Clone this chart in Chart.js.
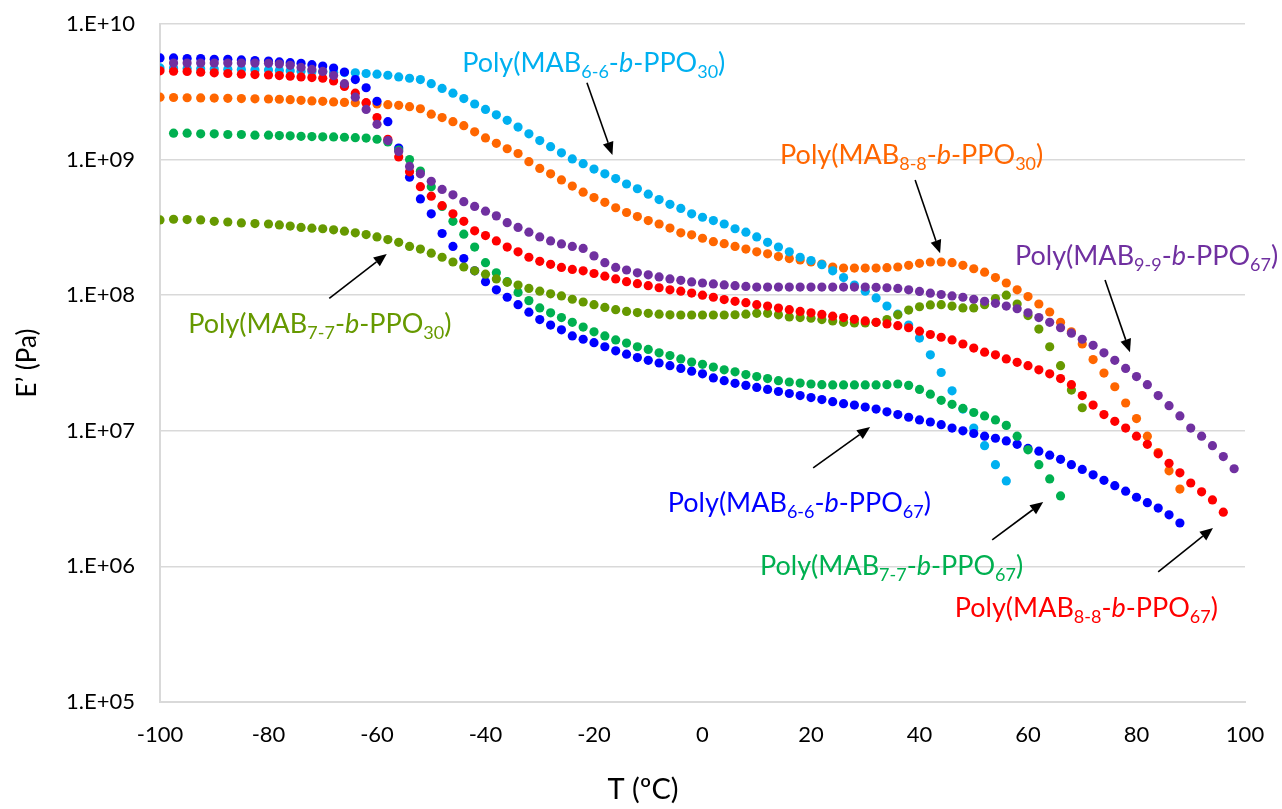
<!DOCTYPE html>
<html>
<head>
<meta charset="utf-8">
<script src="https://cdn.jsdelivr.net/npm/chart.js@4.4.0/dist/chart.umd.min.js"></script>
<style>
    body { margin: 0; background: #fff; }
    #wrap { width: 1282px; height: 809px; position: relative; }
</style>
</head>
<body>
<div id="wrap"><canvas id="myChart"></canvas></div>
<script>
// temperatures (ºC) shared by every run
const temps = [-100, -97.5, -95, -92.5, -90, -87.5, -85, -82.5,
    -80, -78, -76, -74, -72, -70, -68, -66, -64, -62,
    -60, -58, -56, -54, -52, -50, -48, -46, -44, -42,
    -40, -38, -36, -34, -32, -30, -28, -26, -24, -22,
    -20, -18, -16, -14, -12, -10, -8, -6, -4, -2,
    0, 2, 4, 6, 8, 10, 12, 14, 16, 18,
    20, 22, 24, 26, 28, 30, 32, 34, 36, 38,
    40, 42, 44, 46, 48, 50, 52, 54, 56, 58,
    60, 62, 64, 66, 68, 70, 72, 74, 76, 78,
    80, 82, 84, 86, 88, 90, 92, 94, 96, 98, 100];

// log10(E' / Pa), one value per temperature
const logMab66Ppo30 = [9.676, 9.675, 9.672, 9.67, 9.668, 9.666, 9.664, 9.662,
    9.66, 9.657, 9.655, 9.652, 9.65, 9.648, 9.645, 9.642, 9.64, 9.635,
    9.63, 9.622, 9.61, 9.60, 9.59, 9.56, 9.525, 9.49, 9.45, 9.41,
    9.37, 9.33, 9.29, 9.24, 9.19, 9.14, 9.095, 9.05, 9.005, 8.97,
    8.93, 8.895, 8.86, 8.82, 8.785, 8.745, 8.705, 8.67, 8.64, 8.60,
    8.575, 8.55, 8.525, 8.49, 8.465, 8.43, 8.39, 8.355, 8.32, 8.28,
    8.255, 8.225, 8.18, 8.13, 8.075, 8.03, 7.98, 7.92, 7.86, 7.78,
    7.684, 7.56, 7.43, 7.295, 7.16, 7.02, 6.89, 6.75, 6.63];

const logMab88Ppo30 = [9.46, 9.458, 9.456, 9.455, 9.454, 9.452, 9.45, 9.448,
    9.447, 9.445, 9.442, 9.437, 9.433, 9.43, 9.425, 9.422, 9.42, 9.417,
    9.41, 9.405, 9.40, 9.39, 9.375, 9.335, 9.31, 9.28, 9.25, 9.205,
    9.16, 9.12, 9.08, 9.045, 8.985, 8.935, 8.895, 8.85, 8.805, 8.76,
    8.72, 8.685, 8.645, 8.61, 8.58, 8.55, 8.525, 8.495, 8.46, 8.445,
    8.42, 8.395, 8.38, 8.36, 8.34, 8.32, 8.305, 8.285, 8.27, 8.26,
    8.245, 8.23, 8.208, 8.20, 8.20, 8.20, 8.20, 8.203, 8.208, 8.22,
    8.235, 8.245, 8.245, 8.24, 8.22, 8.195, 8.17, 8.13, 8.09, 8.04,
    7.99, 7.935, 7.876, 7.80, 7.73, 7.64, 7.525, 7.426, 7.325, 7.205,
    7.09, 6.96, 6.84, 6.705, 6.57];

const logMab99Ppo67 = [null, 9.712, 9.712, 9.712, 9.712, 9.712, 9.712, 9.712,
    9.71, 9.705, 9.695, 9.68, 9.665, 9.65, 9.62, 9.56, 9.46, 9.37,
    9.26, 9.14, 9.06, 8.95, 8.895, 8.84, 8.78, 8.74, 8.69, 8.655,
    8.62, 8.585, 8.535, 8.50, 8.465, 8.43, 8.40, 8.378, 8.36, 8.345,
    8.29, 8.24, 8.205, 8.186, 8.165, 8.15, 8.135, 8.12, 8.11, 8.098,
    8.09, 8.083, 8.076, 8.07, 8.065, 8.06, 8.06, 8.06, 8.06, 8.06,
    8.06, 8.06, 8.06, 8.06, 8.06, 8.06, 8.058, 8.055, 8.05, 8.04,
    8.028, 8.015, 8.005, 7.995, 7.985, 7.97, 7.955, 7.94, 7.92, 7.90,
    7.87, 7.835, 7.80, 7.76, 7.72, 7.675, 7.63, 7.575, 7.52, 7.46,
    7.40, 7.34, 7.26, 7.185, 7.11, 7.02, 6.96, 6.89, 6.81, 6.72];

const logMab77Ppo30 = [8.555, 8.56, 8.558, 8.555, 8.545, 8.54, 8.533, 8.528,
    8.525, 8.518, 8.51, 8.50, 8.494, 8.49, 8.482, 8.472, 8.46, 8.447,
    8.43, 8.41, 8.39, 8.36, 8.34, 8.31, 8.28, 8.245, 8.208, 8.18,
    8.155, 8.12, 8.095, 8.075, 8.05, 8.03, 8.01, 7.995, 7.97, 7.95,
    7.93, 7.91, 7.893, 7.88, 7.872, 7.866, 7.86, 7.855, 7.854, 7.854,
    7.854, 7.854, 7.854, 7.856, 7.86, 7.866, 7.866, 7.855, 7.84, 7.835,
    7.83, 7.82, 7.81, 7.80, 7.795, 7.795, 7.80, 7.82, 7.855, 7.89,
    7.915, 7.928, 7.93, 7.92, 7.906, 7.906, 7.93, 7.975, 8.0, 7.935,
    7.85, 7.75, 7.62, 7.48, 7.30, 7.17];

const logMab66Ppo67 = [9.75, 9.75, 9.745, 9.745, 9.74, 9.74, 9.735, 9.73,
    9.727, 9.72, 9.715, 9.71, 9.70, 9.69, 9.675, 9.646, 9.59, 9.53,
    9.43, 9.28, 9.085, 8.87, 8.71, 8.60, 8.455, 8.36, 8.27, 8.18,
    8.10, 8.04, 7.985, 7.93, 7.875, 7.82, 7.78, 7.745, 7.70, 7.675,
    7.65, 7.62, 7.59, 7.565, 7.54, 7.52, 7.50, 7.48, 7.46, 7.44,
    7.42, 7.39, 7.37, 7.35, 7.335, 7.32, 7.305, 7.29, 7.275, 7.26,
    7.245, 7.23, 7.215, 7.20, 7.19, 7.175, 7.16, 7.14, 7.12, 7.10,
    7.08, 7.065, 7.045, 7.02, 7.0, 6.98, 6.96, 6.945, 6.925, 6.90,
    6.87, 6.85, 6.82, 6.79, 6.75, 6.715, 6.675, 6.635, 6.595, 6.555,
    6.51, 6.47, 6.43, 6.38, 6.32];

const logMab77Ppo67 = [null, 9.195, 9.195, 9.19, 9.19, 9.185, 9.185, 9.18,
    9.18, 9.177, 9.175, 9.172, 9.17, 9.168, 9.167, 9.165, 9.162, 9.159,
    9.15, 9.13, 9.07, 9.0, 8.915, 8.80, 8.655, 8.545, 8.45, 8.355,
    8.24, 8.165, 8.10, 8.02, 7.96, 7.906, 7.87, 7.835, 7.80, 7.765,
    7.73, 7.70, 7.67, 7.647, 7.62, 7.60, 7.575, 7.555, 7.53, 7.507,
    7.49, 7.47, 7.45, 7.435, 7.415, 7.40, 7.385, 7.37, 7.36, 7.352,
    7.345, 7.34, 7.338, 7.338, 7.338, 7.338, 7.338, 7.34, 7.345, 7.335,
    7.305, 7.27, 7.225, 7.195, 7.165, 7.135, 7.11, 7.08, 7.04, 6.96,
    6.86, 6.75, 6.645, 6.52];

const logMab88Ppo67 = [9.655, 9.652, 9.65, 9.645, 9.64, 9.635, 9.63, 9.627,
    9.624, 9.62, 9.615, 9.61, 9.605, 9.60, 9.58, 9.54, 9.49, 9.42,
    9.31, 9.15, 9.02, 8.91, 8.80, 8.73, 8.66, 8.60, 8.545, 8.475,
    8.44, 8.40, 8.355, 8.32, 8.28, 8.25, 8.228, 8.205, 8.19, 8.18,
    8.16, 8.14, 8.12, 8.10, 8.085, 8.07, 8.055, 8.04, 8.03, 8.016,
    8.0, 7.985, 7.968, 7.955, 7.945, 7.93, 7.92, 7.905, 7.893, 7.88,
    7.87, 7.858, 7.845, 7.835, 7.822, 7.81, 7.80, 7.788, 7.775, 7.76,
    7.735, 7.71, 7.69, 7.67, 7.64, 7.61, 7.58, 7.56, 7.53, 7.505,
    7.48, 7.45, 7.42, 7.385, 7.34, 7.26, 7.19, 7.12, 7.07, 7.02,
    6.96, 6.90, 6.83, 6.76, 6.69, 6.615, 6.55, 6.49, 6.40];

const yTicks = [1e5, 1e6, 1e7, 1e8, 1e9, 1e10];

// draw order: first one ends up on top
const runs = [
    {logs: logMab99Ppo67, color: '#7030A0'},
    {logs: logMab88Ppo67, color: '#FF0000'},
    {logs: logMab77Ppo30, color: '#669900'},
    {logs: logMab77Ppo67, color: '#00B050'},
    {logs: logMab66Ppo67, color: '#0000FF'},
    {logs: logMab66Ppo30, color: '#00B0F0'},
    {logs: logMab88Ppo30, color: '#FF6600'}
];

// labels: text position and arrow tail/head in data units (ºC, log10 E')
const notes = [
    {color: '#00B0F0', n: '6-6', m: '30', at: [-44.3, 9.646], from: [-21.3, 9.567], to: [-16.6, 9.034]},
    {color: '#FF6600', n: '8-8', m: '30', at: [14.3, 8.968], from: [39.2, 8.85], to: [43.8, 8.31]},
    {color: '#7030A0', n: '9-9', m: '67', at: [57.6, 8.22], from: [74.2, 8.112], to: [78.8, 7.58]},
    {color: '#669900', n: '7-7', m: '30', at: [-94.8, 7.72], from: [-68.8, 7.977], to: [-58.2, 8.304]},
    {color: '#0000FF', n: '6-6', m: '67', at: [-6.4, 6.40], from: [20.4, 6.726], to: [30.9, 7.028]},
    {color: '#00B050', n: '7-7', m: '67', at: [10.6, 5.94], from: [53.4, 6.195], to: [62.8, 6.475]},
    {color: '#FF0000', n: '8-8', m: '67', at: [46.5, 5.63], from: [84, 5.96], to: [94.1, 6.283]}
];

const FONT = 'Lato, Calibri, Carlito, "Open Sans", sans-serif';
const labelSize = 27;

const drawLabel = (ctx, left, base, n) =>
{
    const parts = [['Poly(MAB', ''], [n.n, 's'], ['-', ''], ['b', 'i'], ['-PPO', ''], [n.m, 's'], [')', '']];
    let xx = left;
    ctx.fillStyle = n.color;
    ctx.textBaseline = 'alphabetic';
    ctx.textAlign = 'left';
    parts.forEach(([t, k]) => {
        if (k === 's') ctx.font = `${Math.round(labelSize * 0.68)}px ${FONT}`;
        else if (k === 'i') ctx.font = `italic ${labelSize}px ${FONT}`;
        else ctx.font = `${labelSize}px ${FONT}`;
        ctx.fillText(t, xx, k === 's' ? base + 6 : base);
        xx += ctx.measureText(t).width;
    });
}

const drawArrow = (ctx, x1, y1, x2, y2) =>
{
    const ang = Math.atan2(y2 - y1, x2 - x1);
    const len = 13, half = 5.5;
    const bx = x2 - len * Math.cos(ang), by = y2 - len * Math.sin(ang);
    ctx.strokeStyle = '#000';
    ctx.fillStyle = '#000';
    ctx.lineWidth = 1.6;
    ctx.beginPath();
    ctx.moveTo(x1, y1);
    ctx.lineTo(bx, by);
    ctx.stroke();
    ctx.beginPath();
    ctx.moveTo(x2, y2);
    ctx.lineTo(bx + half * Math.sin(ang), by - half * Math.cos(ang));
    ctx.lineTo(bx - half * Math.sin(ang), by + half * Math.cos(ang));
    ctx.closePath();
    ctx.fill();
}

const notesPlugin = {
    id: 'notes',
    afterDatasetsDraw(chart) {
        const ctx = chart.ctx;
        const xs = chart.scales.x, ys = chart.scales.y;
        const px = v => xs.getPixelForValue(v);
        const py = v => ys.getPixelForValue(Math.pow(10, v));
        ctx.save();
        notes.forEach(n => {
            drawArrow(ctx, px(n.from[0]), py(n.from[1]), px(n.to[0]), py(n.to[1]));
            drawLabel(ctx, px(n.at[0]), py(n.at[1]), n);
        });
        // axis titles
        ctx.fillStyle = '#000';
        ctx.textAlign = 'center';
        ctx.textBaseline = 'middle';
        ctx.font = `29px ${FONT}`;
        ctx.fillText('T (ºC)', 643, 790);
        ctx.font = `26px ${FONT}`;
        ctx.translate(28, (chart.chartArea.top + chart.chartArea.bottom) / 2);
        ctx.rotate(-Math.PI / 2);
        ctx.fillText('E’ (Pa)', 0, 0);
        ctx.restore();
    }
};

const datasets = runs.map(r => ({
    data: r.logs.map((v, i) => v === null ? null : {x: temps[i], y: Math.pow(10, v)}).filter(p => p),
    backgroundColor: r.color,
    borderWidth: 0,
    pointRadius: 4.6,
    showLine: false
}));

new Chart(document.getElementById('myChart'), {
    type: 'scatter',
    data: {datasets: datasets},
    options: {
        responsive: true,
        maintainAspectRatio: false,
        animation: false,
        layout: {padding: {top: 24, right: 37, left: 0, bottom: 0}},
        plugins: {legend: {display: false}, tooltip: {enabled: false}},
        scales: {
            x: {
                type: 'linear',
                min: -100,
                max: 100,
                afterFit: s => { s.height = 107; s.paddingLeft = 0; s.paddingRight = 0; },
                grid: {display: false},
                border: {display: true, color: '#d9d9d9', width: 2},
                ticks: {stepSize: 20, padding: 12, color: '#000', font: {family: FONT, size: 22}, maxRotation: 0}
            },
            y: {
                type: 'logarithmic',
                min: 1e5,
                max: 1e10,
                afterFit: s => { s.width = 160; s.paddingTop = 0; s.paddingBottom = 0; },
                afterBuildTicks: s => { s.ticks = yTicks.map(v => ({value: v})); },
                grid: {color: '#d9d9d9', lineWidth: 1.5, drawTicks: false},
                border: {display: true, color: '#d9d9d9', width: 2},
                ticks: {
                    padding: 25,
                    color: '#000',
                    font: {family: FONT, size: 22},
                    callback: v => '1.E+' + String(Math.round(Math.log10(v))).padStart(2, '0')
                }
            }
        }
    },
    plugins: [notesPlugin]
});
</script>
</body>
</html>
